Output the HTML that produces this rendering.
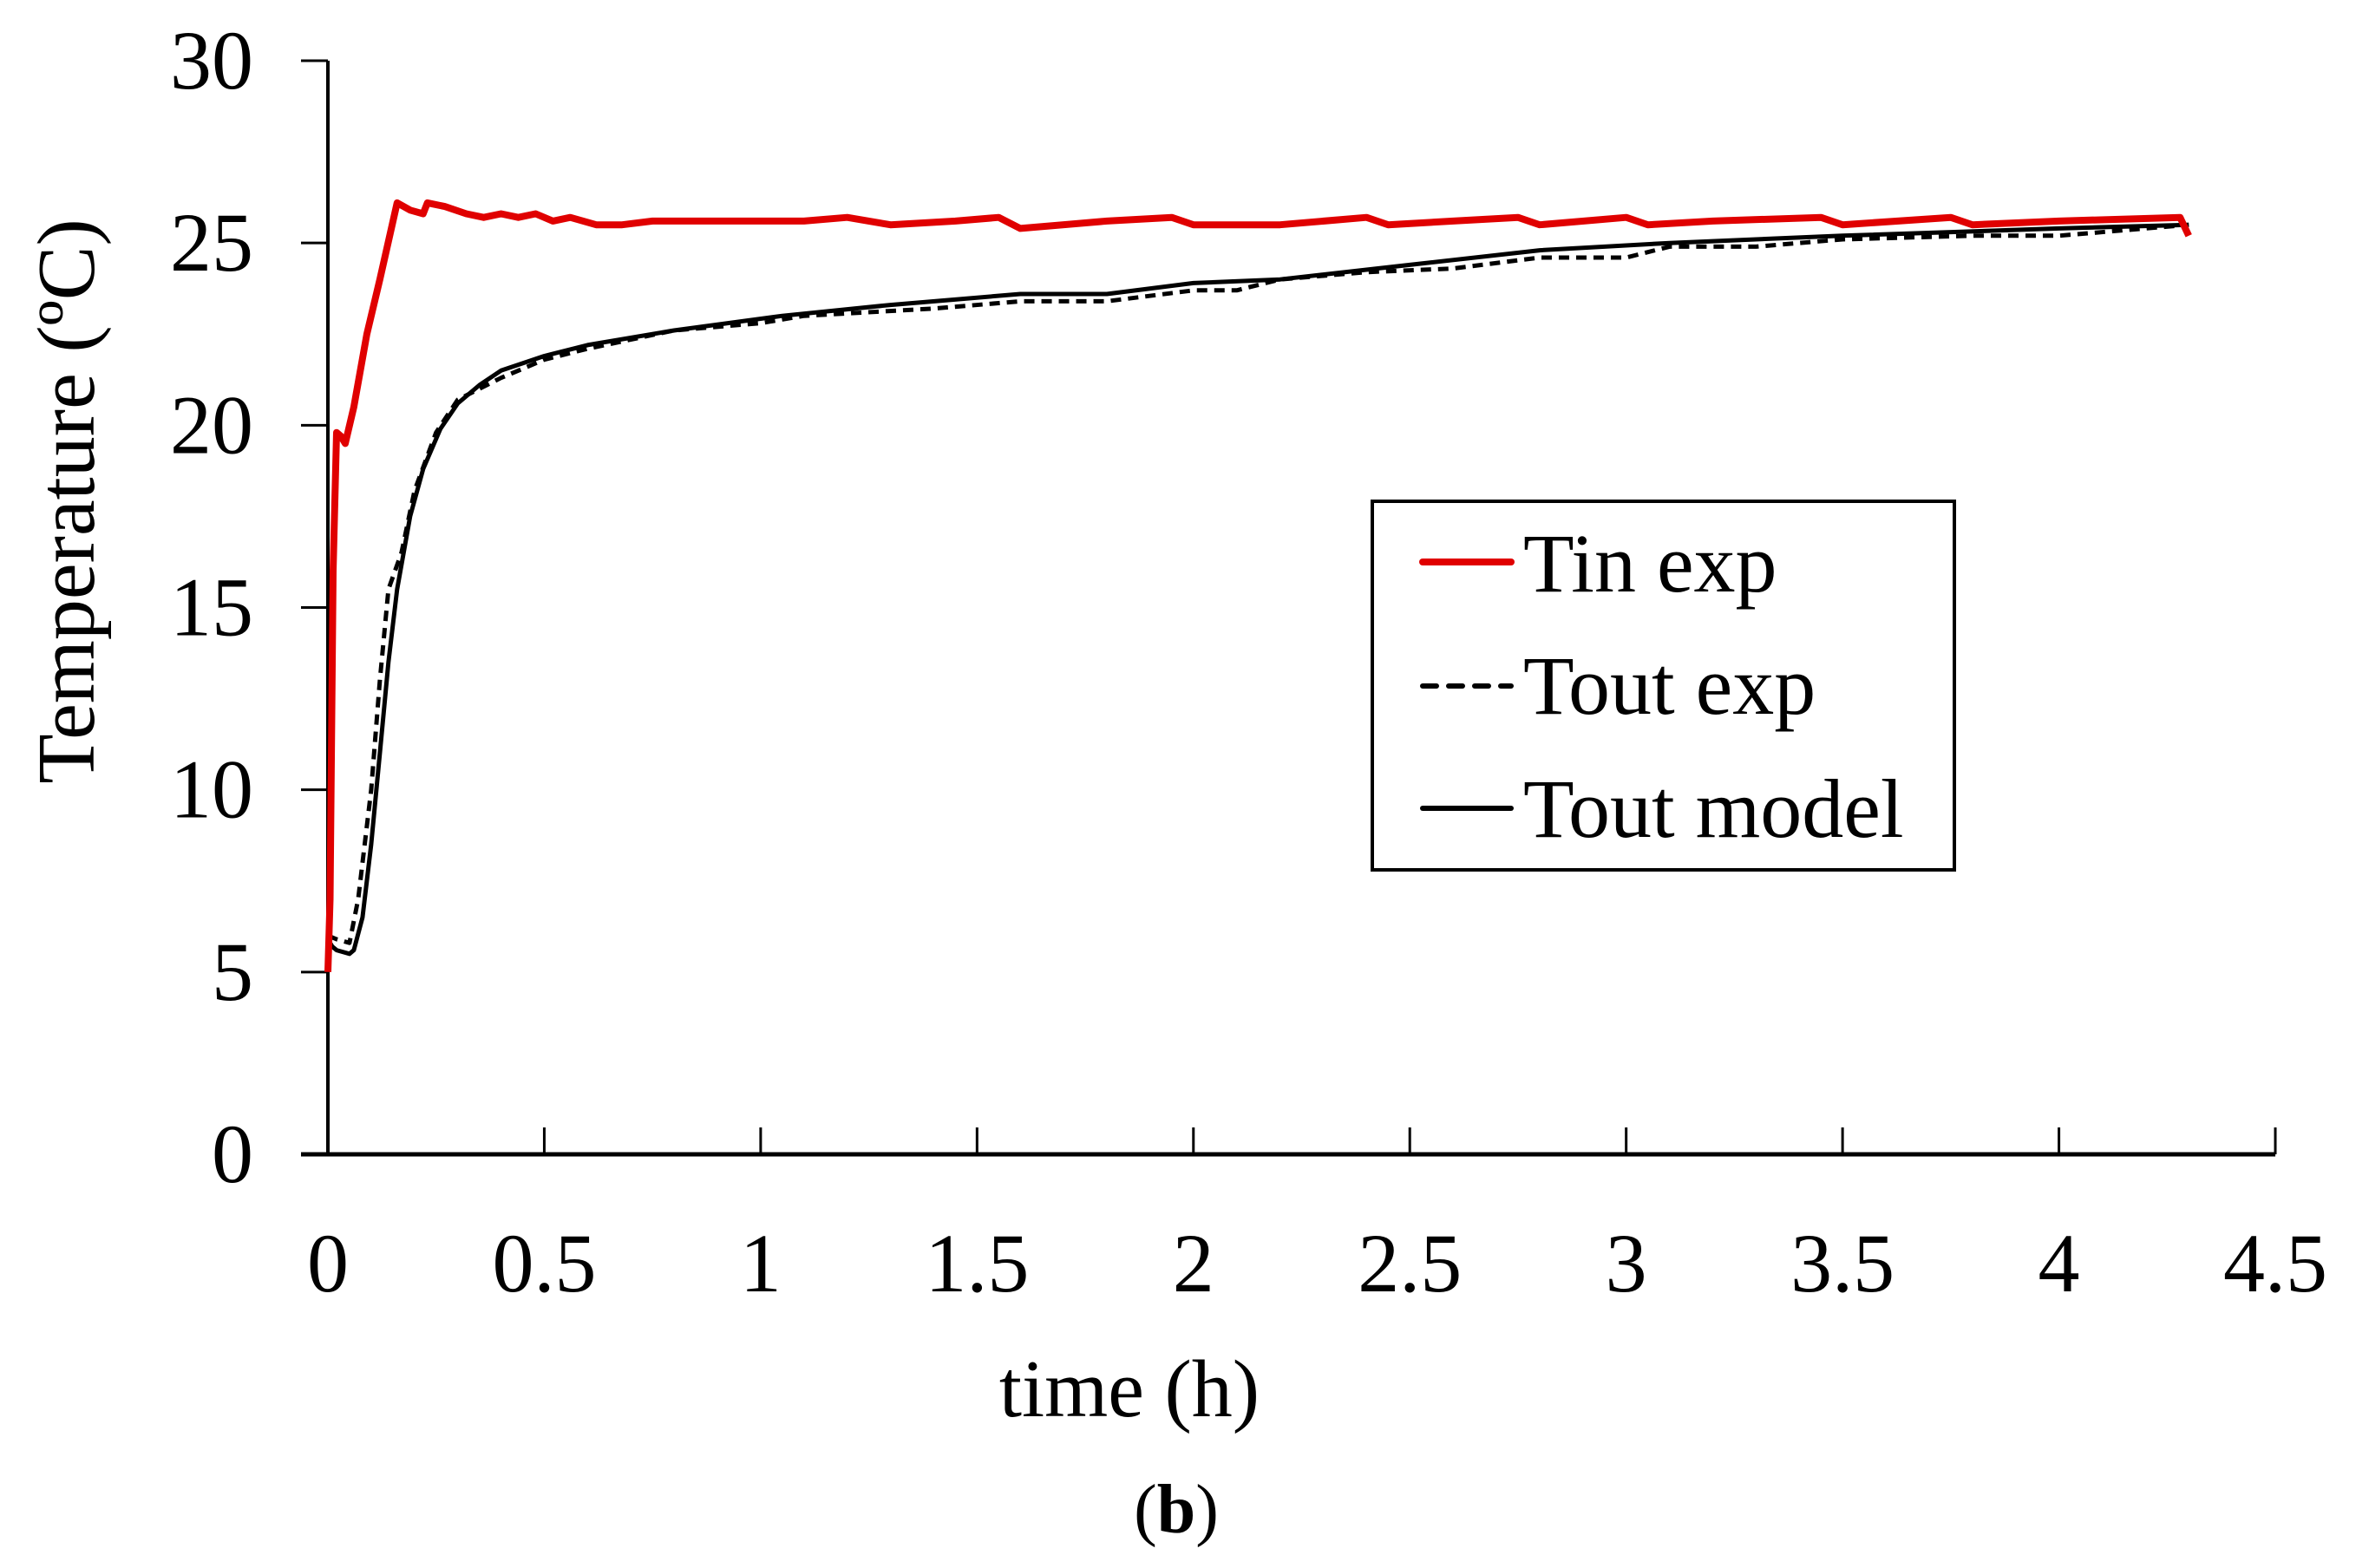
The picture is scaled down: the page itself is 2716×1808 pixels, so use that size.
<!DOCTYPE html>
<html><head><meta charset="utf-8"><style>
html,body{margin:0;padding:0;background:#fff;}
svg{display:block;font-family:"Liberation Serif",serif;}
</style></head><body>
<svg id="chart" width="2716" height="1808" viewBox="0 0 2716 1808" xmlns="http://www.w3.org/2000/svg">
<rect x="0" y="0" width="2716" height="1808" fill="#fff"/>
<g id="axes"></g>
<g id="series"></g>
<g>
  <rect x="1582" y="578" width="671" height="425" fill="#fff" stroke="#000" stroke-width="4"/>
  <line x1="1640" y1="648" x2="1742" y2="648" stroke="#e00000" stroke-width="8" stroke-linecap="round"/>
  <text x="1756" y="682" font-size="96">Tin exp</text>
  <line x1="1640" y1="791" x2="1742" y2="791" stroke="#000" stroke-width="6" stroke-dasharray="16,14" stroke-linecap="round"/>
  <text x="1756" y="823" font-size="96">Tout exp</text>
  <line x1="1640" y1="932" x2="1742" y2="932" stroke="#000" stroke-width="6" stroke-linecap="round"/>
  <text x="1756" y="965" font-size="96">Tout model</text>
</g>
<text transform="translate(108,578) rotate(-90)" text-anchor="middle" font-size="94">Temperature (ºC)</text>
<text x="1302" y="1633" text-anchor="middle" font-size="94">time (h)</text>
<text x="1356" y="1767" text-anchor="middle" font-size="80"><tspan>(</tspan><tspan font-weight="bold">b</tspan><tspan>)</tspan></text>
</svg>
<script>
const xTicks = [0,0.5,1,1.5,2,2.5,3,3.5,4,4.5];
const xTickLabels = ["0","0.5","1","1.5","2","2.5","3","3.5","4","4.5"];
const yTicks = [0,5,10,15,20,25,30];
const yTickLabels = ["0","5","10","15","20","25","30"];

const tinTime = [0,0.005,0.012,0.02,0.03,0.04,0.06,0.09,0.12,0.16,0.19,0.22,0.23,0.27,0.32,0.36,0.4,0.44,0.48,0.52,0.56,0.62,0.68,0.75,0.82,0.9,1.0,1.1,1.2,1.3,1.45,1.55,1.6,1.8,1.95,2.0,2.2,2.4,2.45,2.6,2.75,2.8,3.0,3.05,3.2,3.45,3.5,3.75,3.8,4.0,4.28,4.3];
const tinVals = [5.0,7,16,19.8,19.7,19.5,20.5,22.5,24,26.1,25.9,25.8,26.1,26.0,25.8,25.7,25.8,25.7,25.8,25.6,25.7,25.5,25.5,25.6,25.6,25.6,25.6,25.6,25.7,25.5,25.6,25.7,25.4,25.6,25.7,25.5,25.5,25.7,25.5,25.6,25.7,25.5,25.7,25.5,25.6,25.7,25.5,25.7,25.5,25.6,25.7,25.2];

const toutExpTime = [0,0.02,0.05,0.07,0.1,0.12,0.14,0.17,0.2,0.25,0.3,0.4,0.5,0.6,0.8,1.0,1.1,1.4,1.6,1.8,2.0,2.1,2.2,2.4,2.6,2.8,3.0,3.1,3.3,3.5,3.8,4.0,4.3];
const toutExpVals = [6.0,5.9,5.8,7,10,13,15.5,16.5,18.2,19.8,20.7,21.3,21.8,22.1,22.6,22.8,23.0,23.2,23.4,23.4,23.7,23.7,24.0,24.2,24.3,24.6,24.6,24.9,24.9,25.1,25.2,25.2,25.5];

const toutModelTime = [0,0.01,0.02,0.05,0.06,0.08,0.1,0.12,0.14,0.16,0.19,0.22,0.26,0.3,0.35,0.4,0.5,0.6,0.8,1.05,1.3,1.6,1.8,2.0,2.2,2.5,2.8,3.1,3.5,4.0,4.3];
const toutModelVals = [5.9,5.7,5.6,5.5,5.6,6.5,8.5,11,13.5,15.5,17.5,18.8,19.9,20.6,21.1,21.5,21.9,22.2,22.6,23.0,23.3,23.6,23.6,23.9,24.0,24.4,24.8,25.0,25.2,25.4,25.5];

const X0 = 378, X1 = 2623, XMAX = 4.5;
const Y0 = 1331, Y1 = 70, YMAX = 30;
function sx(v){ return X0 + (v / XMAX) * (X1 - X0); }
function sy(v){ return Y0 - (v / YMAX) * (Y0 - Y1); }
const NS = "http://www.w3.org/2000/svg";
const axes = document.getElementById('axes');
const series = document.getElementById('series');
function mk(tag, attrs, parent){ const e = document.createElementNS(NS, tag); for (const k in attrs) e.setAttribute(k, attrs[k]); parent.appendChild(e); return e; }

const yAxis = mk('line', {x1:X0, y1:Y1, x2:X0, y2:Y0, stroke:'#000','stroke-width':4}, axes);


const xAxis = mk('line', {x1:X0-31, y1:Y0, x2:X1, y2:Y0, stroke:'#000','stroke-width':5}, axes);



yTicks.forEach((v, i) => {
  const t = mk('line', {x1:X0-31, y1:sy(v), x2:X0, y2:sy(v), stroke:'#000','stroke-width':3}, axes);
  
  
  const l = mk('text', {x:292, y:sy(v)+32, 'text-anchor':'end','font-size':96}, axes);
  
  
  l.textContent = yTickLabels[i];
});
xTicks.forEach((v, i) => {
  if (i > 0) {
    const t = mk('line', {x1:sx(v), y1:Y0-31, x2:sx(v), y2:Y0, stroke:'#000','stroke-width':3}, axes);
    
    
  }
  const l = mk('text', {x:sx(v), y:1489, 'text-anchor':'middle','font-size':96}, axes);
  
  
  l.textContent = xTickLabels[i];
});

function pathD(xs, ys){ return xs.map((x, i) => (i ? 'L' : 'M') + sx(x).toFixed(1) + ',' + sy(ys[i]).toFixed(1)).join(' '); }
const pModel = mk('path', {d:pathD(toutModelTime, toutModelVals), fill:'none', stroke:'#000','stroke-width':5,'stroke-linejoin':'round'}, series);


const pExp = mk('path', {d:pathD(toutExpTime, toutExpVals), fill:'none', stroke:'#000','stroke-width':5,'stroke-dasharray':'12,8','stroke-linejoin':'round'}, series);


const pTin = mk('path', {d:pathD(tinTime, tinVals), fill:'none', stroke:'#e00000','stroke-width':8,'stroke-linejoin':'round'}, series);


</script>
</body></html>
